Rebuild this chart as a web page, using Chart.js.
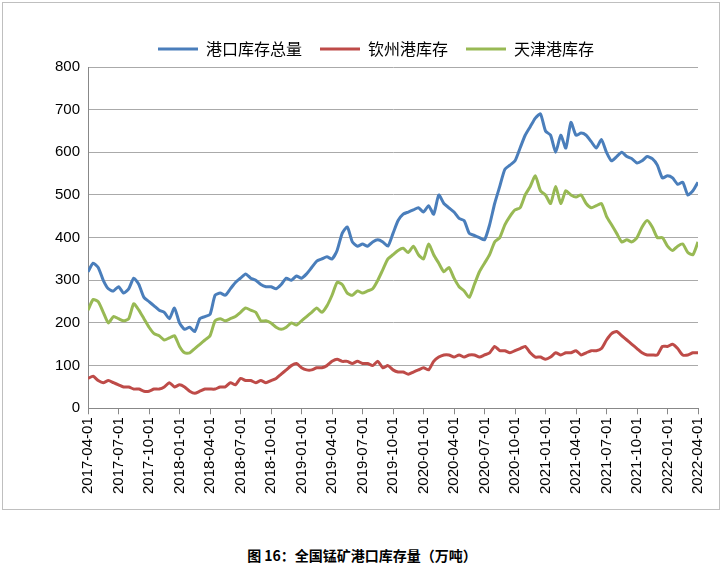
<!DOCTYPE html>
<html><head><meta charset="utf-8">
<script src="https://cdn.jsdelivr.net/npm/chart.js@4/dist/chart.umd.min.js"></script>
<style>
body{margin:0;background:#fff;font-family:"Noto Sans CJK SC",sans-serif;}
#box{position:absolute;left:2px;top:2px;width:716px;height:506px;border:1px solid #bfbfbf;}
#cap{position:absolute;left:0;width:724px;top:545px;text-align:center;font-weight:bold;font-size:14px;color:#000;}
</style></head><body>
<div id="box"><canvas id="c" width="716" height="506"></canvas></div>
<div id="cap">图 16：全国锰矿港口库存量（万吨）</div>
<script>
const seriesNames=["港口库存总量","钦州港库存","天津港库存"];
const startYear=2017, startMonth=4;
const tickLabels=[];
for(let q=0;q<=20;q++){const m=startMonth-1+q*3;const y=startYear+Math.floor(m/12);const mm=(m%12)+1;tickLabels.push(y+"-"+String(mm).padStart(2,"0")+"-01");}
const total=[
320,340,330,300,280,275,285,270,280,305,290,260,250,240,230,225,210,235,
200,185,190,180,210,215,220,265,270,265,280,295,305,315,305,300,290,285,285,280,290,305,300,310,
305,315,330,345,350,355,350,370,410,425,390,380,385,380,390,395,390,380,410,440,455,460,465,470,
460,475,455,500,480,470,460,445,440,410,405,400,395,430,480,520,560,570,580,610,640,660,680,690,
650,640,600,640,610,670,640,645,640,625,610,630,600,580,590,600,590,585,575,580,590,585,570,540,
545,540,525,530,500,510,530];
const qinzhou=[
70,75,65,60,65,60,55,50,50,45,45,40,40,45,45,50,60,50,
55,50,40,35,40,45,45,45,50,50,60,55,70,65,65,60,65,60,65,70,80,90,100,105,
95,90,90,95,95,100,110,115,110,110,105,110,105,105,100,110,95,100,90,85,85,80,85,90,
95,90,110,120,125,125,120,125,120,125,125,120,125,130,145,135,135,130,135,140,145,130,120,120,
115,120,130,125,130,130,135,125,130,135,135,140,160,175,180,170,160,150,140,130,125,125,125,145,
145,150,140,125,125,130,130];
const tianjin=[
230,255,250,225,200,215,210,205,210,245,230,210,190,175,170,160,165,170,
145,130,130,140,150,160,170,205,210,205,210,215,225,235,230,225,205,205,200,190,185,190,200,195,
205,215,225,235,225,240,265,295,290,270,265,275,270,275,280,300,325,350,360,370,375,365,380,360,
350,385,360,340,320,330,305,285,275,260,290,320,340,360,390,400,430,450,465,470,500,520,545,510,
500,480,520,480,510,500,495,500,480,470,475,480,450,430,410,390,395,390,400,425,440,425,400,400,
380,370,380,385,365,360,390];
const toPts=a=>a.map((v,i)=>({x:i/2,y:v}));
const mk=(label,data,color)=>({label,data:toPts(data),borderColor:color,backgroundColor:color,borderWidth:3,pointRadius:0,tension:0.2});
new Chart(document.getElementById('c'),{type:'line',
data:{datasets:[mk(seriesNames[0],total,'#4a7ebb'),mk(seriesNames[1],qinzhou,'#be4b48'),mk(seriesNames[2],tianjin,'#98b954')]},
options:{responsive:false,animation:false,
layout:{padding:{left:44,right:14,top:20,bottom:12}},
plugins:{legend:{position:'top',labels:{usePointStyle:true,pointStyle:'line',pointStyleWidth:40,boxHeight:3,color:'#000',font:{size:16,family:'"Noto Sans CJK SC"'},padding:18}},tooltip:{enabled:false}},
scales:{
x:{type:'linear',min:0,max:60,ticks:{stepSize:3,autoSkip:false,maxRotation:90,minRotation:90,color:'#000',font:{size:15,family:'Liberation Sans'},callback:v=>tickLabels[v/3]},grid:{drawOnChartArea:false,color:'#888',tickLength:6},border:{color:'#888'}},
y:{min:0,max:800,ticks:{stepSize:100,color:'#000',font:{size:15,family:'Liberation Sans'},padding:8},grid:{color:'#aaa',tickLength:0},border:{color:'#888'}}
}}});
</script></body></html>
